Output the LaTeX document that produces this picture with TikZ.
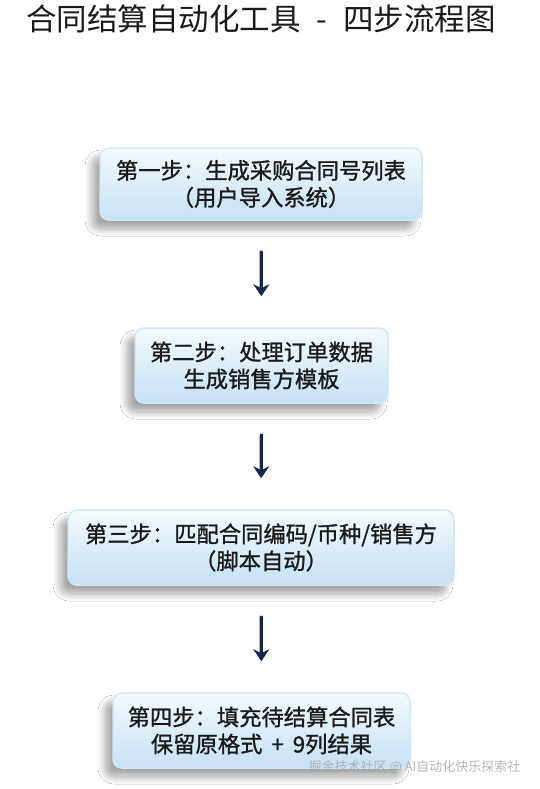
\documentclass[tikz,border=0pt]{standalone}
\usepackage{fontspec}
\newfontfamily\cjk{Noto Sans CJK SC}
\newfontfamily\cjkb{Noto Sans CJK SC}[FakeBold=1.1]
\usetikzlibrary{arrows.meta,shadows.blur}
\definecolor{navy}{HTML}{15264A}
\definecolor{boxtop}{HTML}{F4FAFD}
\definecolor{boxbot}{HTML}{C6E1F4}
\definecolor{boxedge}{HTML}{D3E7F5}
\definecolor{ink}{HTML}{1A1A1A}
\tikzset{
  stepbox/.style={draw=boxedge, line width=1.5pt, rounded corners=9pt,
    top color=boxtop, bottom color=boxbot, text=ink,
    font=\cjkb\fontsize{22.3}{27}\selectfont, align=center,
    inner sep=0pt,
    blur shadow={shadow xshift=-8pt, shadow yshift=-9pt, shadow opacity=35, shadow blur steps=12, shadow blur radius=7pt}},
  flow/.style={navy, line width=3.2pt, -{Stealth[length=12pt,width=16pt]},
    shorten <=30pt, shorten >=31pt},
  titletext/.style={font=\cjk\fontsize{30.5}{34}\selectfont, text=ink},
  wmark/.style={font=\cjk\fontsize{13}{15}\selectfont, text=gray!70, opacity=0.8}
}
\begin{document}
\begin{tikzpicture}[x=1pt,y=-1pt]
\useasboundingbox[fill=white] (0,0) rectangle (540,789);
\node[titletext] (title) at (261,19) {合同结算自动化工具\hspace{16pt}-\hspace{16pt}四步流程图};
\node[stepbox, minimum width=322pt, minimum height=72pt] (b1) at (261,184)
  {第一步：生成采购合同号列表\\（用户导入系统）};
\node[stepbox, minimum width=253pt, minimum height=75pt] (b2) at (261.5,365.5)
  {第二步：处理订单数据\\生成销售方模板};
\node[stepbox, minimum width=386pt, minimum height=75pt] (b3) at (261,547.5)
  {第三步：匹配合同编码/币种/销售方\\（脚本自动）};
\node[stepbox, minimum width=297pt, minimum height=75pt] (b4) at (261.5,730.5)
  {第四步：填充待结算合同表\\保留原格式\hspace{9pt}+\hspace{9pt}9列结果};
\draw[flow] (b1.south) -- (b2.north);
\draw[flow] (b2.south) -- (b3.north);
\draw[flow] (b3.south) -- (b4.north);
\node[wmark, anchor=east] (wm) at (524,767) {掘金技术社区 @ AI自动化快乐探索社};
\end{tikzpicture}
\end{document}
